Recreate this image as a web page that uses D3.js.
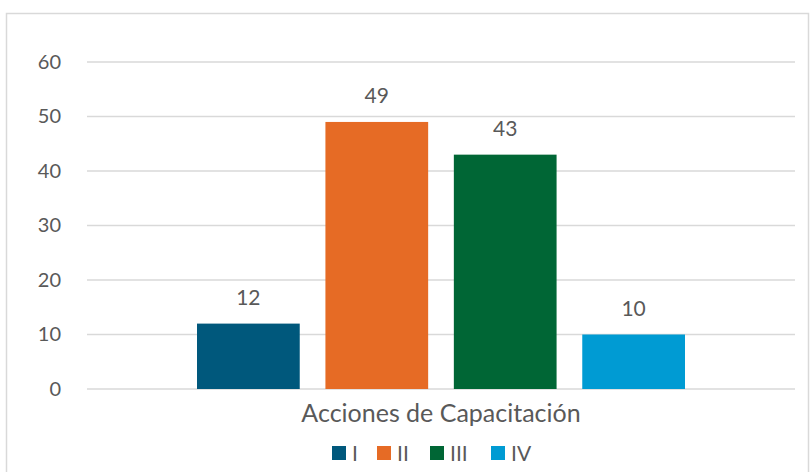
<!DOCTYPE html>
<html>
<head>
<meta charset="utf-8">
<script src="https://cdn.jsdelivr.net/npm/d3@7"></script>
<style>
  body { margin: 0; background: #fff; }
  text { font-family: Lato, "Open Sans", sans-serif; fill: #595959; }
</style>
</head>
<body>
<svg id="chart" width="810" height="472"></svg>
<script>
var category = "Acciones de Capacitación"
var series = ["I", "II", "III", "IV"]
var values = [12, 49, 43, 10]
var colors = ["#00587c", "#e66b25", "#006635", "#009bd3"]
var yTicks = [0, 10, 20, 30, 40, 50, 60]

var svg = d3.select("#chart");

// outer chart border
svg.append("rect")
  .attr("x", 6.5).attr("y", 13.5)
  .attr("width", 802).attr("height", 470)
  .attr("fill", "none")
  .attr("stroke", "#d9d9d9")
  .attr("stroke-width", 1.5);

// plot area (avoid "top" - it's window.top)
var plotLeft = 87, plotRight = 795, plotTop = 62, plotBottom = 389;

var y = d3.scaleLinear().domain([0, 60]).range([plotBottom, plotTop]);

var x0 = d3.scaleBand().domain([category]).range([plotLeft, plotRight]);
var x1 = d3.scaleBand().domain(series)
  .range([x0(category) + 110, x0(category) + x0.bandwidth() - 110])
  .paddingInner(0.2);

// gridlines
svg.append("g").selectAll("line")
  .data(yTicks)
  .enter().append("line")
  .attr("x1", plotLeft).attr("x2", plotRight)
  .attr("y1", function(d) { return y(d); })
  .attr("y2", function(d) { return y(d); })
  .attr("stroke", "#d9d9d9")
  .attr("stroke-width", 1.5);

// y axis labels
var yAxis = d3.axisLeft(y).tickValues(yTicks).tickSize(0).tickPadding(0);
var ya = svg.append("g").attr("transform", "translate(61,0)").call(yAxis);
ya.select(".domain").remove();
ya.selectAll("text")
  .style("font-size", "20px")
  .style("font-family", "Lato, sans-serif")
  .attr("fill", "#595959");

// bars
svg.append("g").selectAll("rect")
  .data(values)
  .enter().append("rect")
  .attr("x", function(d, i) { return x1(series[i]); })
  .attr("y", function(d) { return y(d); })
  .attr("width", x1.bandwidth())
  .attr("height", function(d) { return plotBottom - y(d); })
  .attr("fill", function(d, i) { return colors[i]; });

// value labels
svg.append("g").selectAll("text")
  .data(values)
  .enter().append("text")
  .attr("x", function(d, i) { return x1(series[i]) + x1.bandwidth() / 2; })
  .attr("y", function(d) { return y(d) - 19; })
  .attr("text-anchor", "middle")
  .style("font-size", "21px")
  .text(function(d) { return d; });

// category label
svg.append("text")
  .attr("x", x0(category) + x0.bandwidth() / 2)
  .attr("y", 422)
  .attr("text-anchor", "middle")
  .style("font-size", "25px")
  .text(category);

// legend
var legendX = [332, 377, 430, 491];
var lg = svg.append("g").selectAll("g")
  .data(series)
  .enter().append("g")
  .attr("transform", function(d, i) { return "translate(" + legendX[i] + ",446)"; });
lg.append("rect")
  .attr("width", 14).attr("height", 14)
  .attr("fill", function(d, i) { return colors[i]; });
lg.append("text")
  .attr("x", 20).attr("y", 15)
  .style("font-size", "21px")
  .text(function(d) { return d; });
</script>
</body>
</html>
